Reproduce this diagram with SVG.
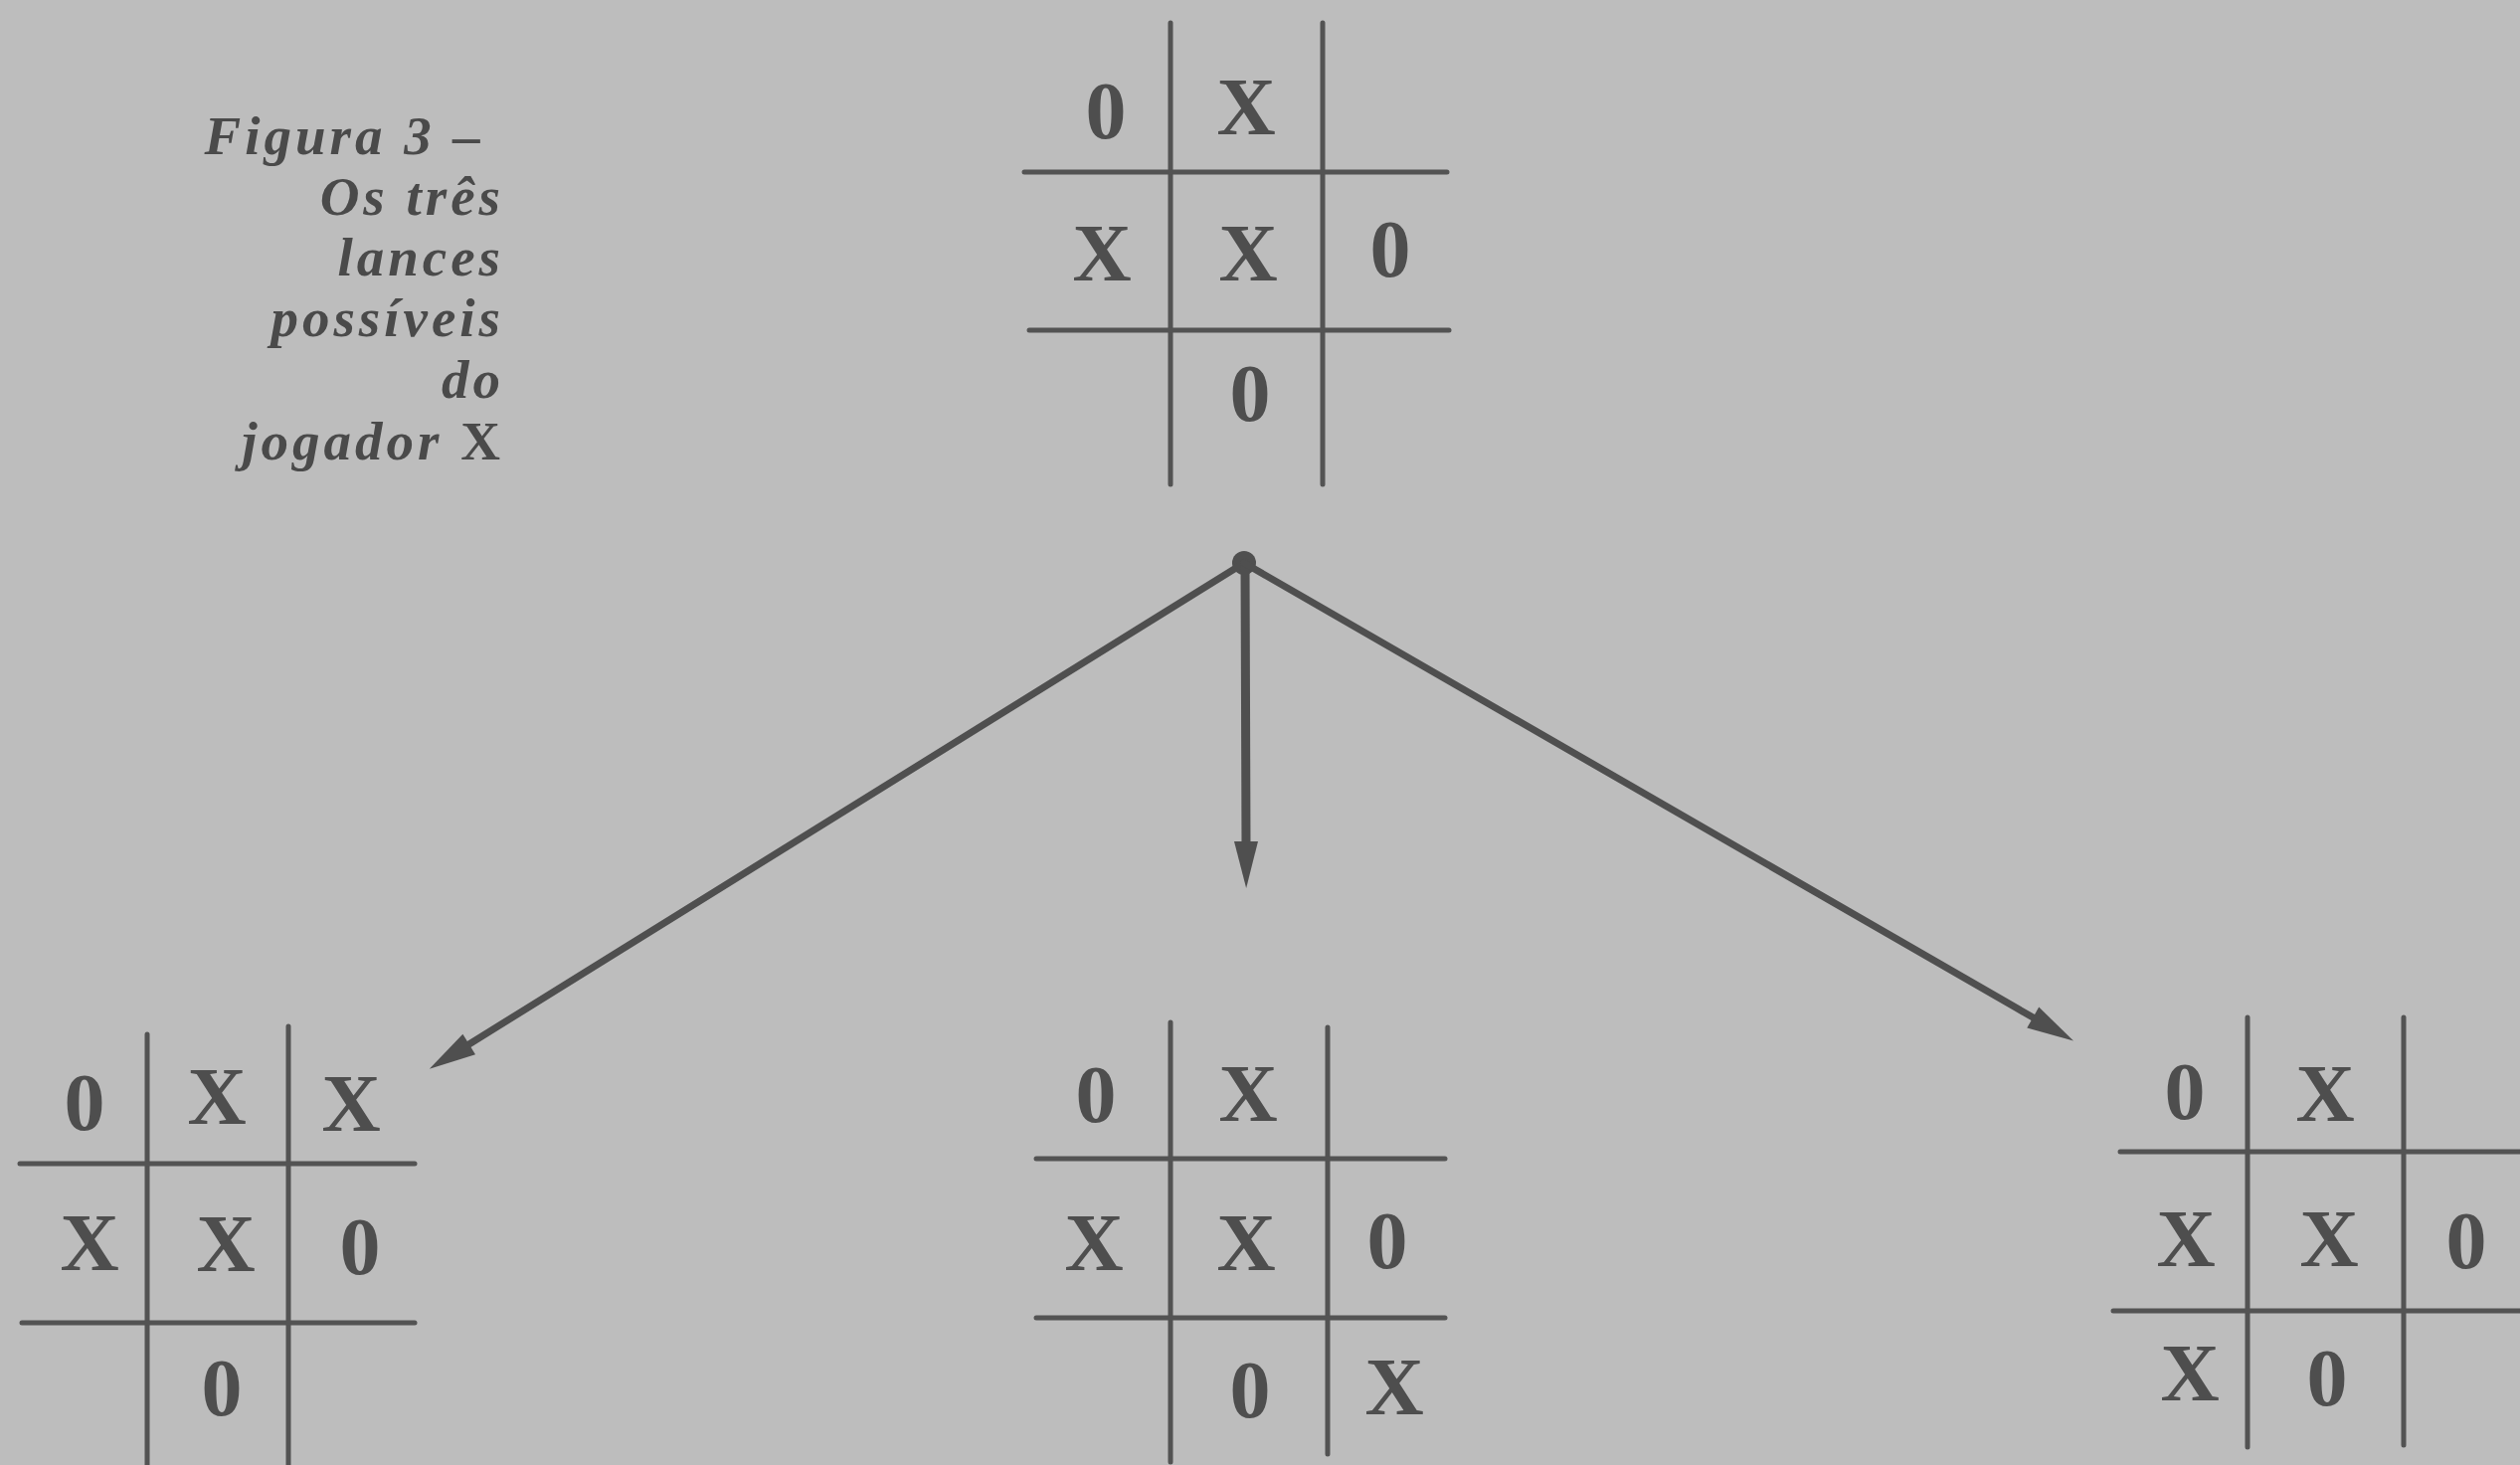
<svg xmlns="http://www.w3.org/2000/svg" width="2534" height="1473" viewBox="0 0 2534 1473">
  <style>
    .grid line { stroke: #535353; stroke-width: 5; stroke-linecap: round; }
    .mark { font-family: "Liberation Serif", "DejaVu Serif", serif; font-weight: bold; font-size: 82px; fill: #4e4e4e; text-anchor: middle; }
    .cap { font-family: "Liberation Serif", "Times New Roman", serif; font-style: italic; font-weight: bold; font-size: 55px; letter-spacing: 4px; fill: #4a4a4a; text-anchor: end; }
    .cap .up { font-style: normal; }
    .conn { stroke: #4f4f4f; fill: none; stroke-linecap: round; }
  </style>
  <defs>
    <marker id="head" markerUnits="userSpaceOnUse" markerWidth="60" markerHeight="40" refX="0" refY="0" orient="auto" viewBox="0 -20 60 40" overflow="visible">
      <path d="M-2,-12 L45,0 L-2,12 z" fill="#4f4f4f"/>
    </marker>
  </defs>
  <rect x="0" y="0" width="2534" height="1473" fill="#bdbdbd"/>

  <g id="caption" class="cap">
    <text x="487" y="155">Figura 3 –</text>
    <text x="507" y="216">Os três</text>
    <text x="507" y="277">lances</text>
    <text x="507" y="338">possíveis</text>
    <text x="507" y="400">do</text>
    <text x="507" y="462">jogador <tspan class="up">X</tspan></text>
  </g>

  <g id="board-top">
    <g class="grid">
      <line x1="1177" y1="23" x2="1177" y2="487"/>
      <line x1="1330" y1="23" x2="1330" y2="487"/>
      <line x1="1030" y1="173" x2="1455" y2="173"/>
      <line x1="1035" y1="332" x2="1457" y2="332"/>
    </g>
    <g class="mark">
      <text x="1112" y="139">0</text>
      <text x="1253" y="135">X</text>
      <text x="1108" y="282">X</text>
      <text x="1255" y="282">X</text>
      <text x="1398" y="278">0</text>
      <text x="1257" y="423">0</text>
    </g>
  </g>

  <g id="board-left">
    <g class="grid">
      <line x1="148" y1="1040" x2="148" y2="1480"/>
      <line x1="290" y1="1032" x2="290" y2="1480"/>
      <line x1="20" y1="1170" x2="417" y2="1170"/>
      <line x1="22" y1="1330" x2="417" y2="1330"/>
    </g>
    <g class="mark">
      <text x="85" y="1136">0</text>
      <text x="218" y="1130">X</text>
      <text x="353" y="1137">X</text>
      <text x="90" y="1277">X</text>
      <text x="227" y="1278">X</text>
      <text x="362" y="1281">0</text>
      <text x="223" y="1423">0</text>
    </g>
  </g>

  <g id="board-middle">
    <g class="grid">
      <line x1="1177" y1="1028" x2="1177" y2="1470"/>
      <line x1="1335" y1="1033" x2="1335" y2="1462"/>
      <line x1="1042" y1="1165" x2="1453" y2="1165"/>
      <line x1="1042" y1="1325" x2="1453" y2="1325"/>
    </g>
    <g class="mark">
      <text x="1102" y="1128">0</text>
      <text x="1255" y="1127">X</text>
      <text x="1100" y="1277">X</text>
      <text x="1253" y="1277">X</text>
      <text x="1395" y="1275">0</text>
      <text x="1257" y="1425">0</text>
      <text x="1402" y="1422">X</text>
    </g>
  </g>

  <g id="board-right">
    <g class="grid">
      <line x1="2260" y1="1023" x2="2260" y2="1455"/>
      <line x1="2417" y1="1023" x2="2417" y2="1453"/>
      <line x1="2132" y1="1158" x2="2540" y2="1158"/>
      <line x1="2125" y1="1318" x2="2540" y2="1318"/>
    </g>
    <g class="mark">
      <text x="2197" y="1125">0</text>
      <text x="2338" y="1127">X</text>
      <text x="2198" y="1273">X</text>
      <text x="2342" y="1273">X</text>
      <text x="2480" y="1275">0</text>
      <text x="2202" y="1408">X</text>
      <text x="2340" y="1413">0</text>
    </g>
  </g>

  <g id="connectors">
    <circle cx="1251" cy="566" r="12" fill="#4f4f4f"/>
    <line class="conn" x1="1251" y1="566" x2="470" y2="1051" stroke-width="7" marker-end="url(#head)"/>
    <line class="conn" x1="1252" y1="566" x2="1253" y2="848" stroke-width="9" marker-end="url(#head)"/>
    <line class="conn" x1="1251" y1="566" x2="2046" y2="1024" stroke-width="7" marker-end="url(#head)"/>
  </g>
</svg>
